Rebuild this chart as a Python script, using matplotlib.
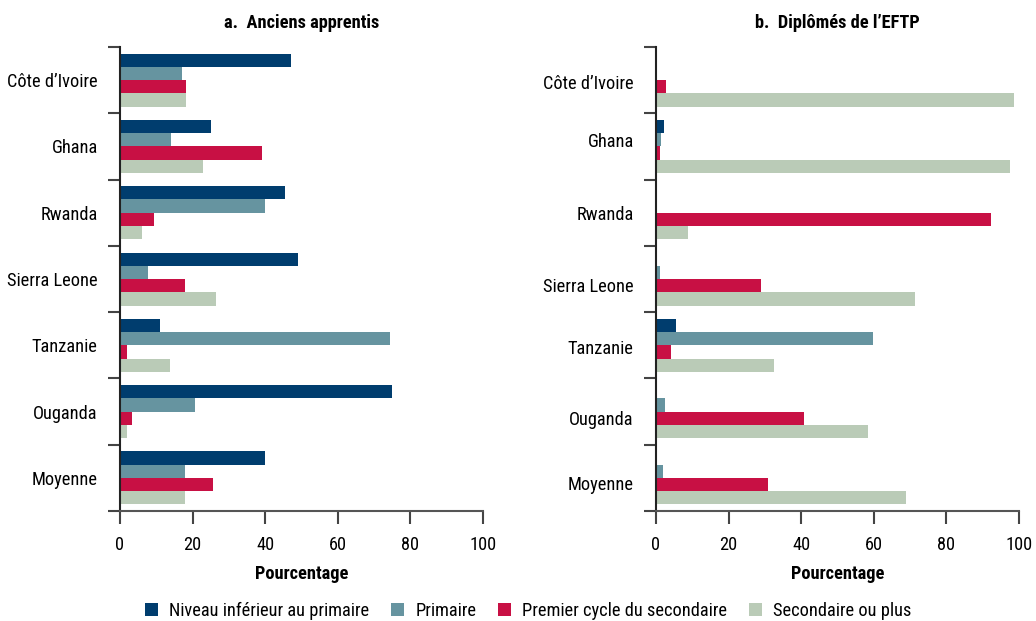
import numpy as np
import matplotlib
matplotlib.use("Agg")
import matplotlib.pyplot as plt
from matplotlib.patches import Patch
import logging
logging.getLogger('matplotlib.font_manager').setLevel(logging.ERROR)

plt.rcParams['font.family'] = ['Roboto Condensed', 'Asap Condensed', 'Open Sans', 'DejaVu Sans']

categories = ["Côte d’Ivoire", "Ghana", "Rwanda", "Sierra Leone", "Tanzanie", "Ouganda", "Moyenne"]
series_names = ["Niveau inférieur au primaire", "Primaire", "Premier cycle du secondaire", "Secondaire ou plus"]

# Panel a: Anciens apprentis
appr_inf_primaire = [47.1, 25.1, 45.5, 49.0, 11.0, 74.8, 40.0]
appr_primaire = [17.1, 14.0, 40.0, 7.7, 74.4, 20.7, 17.9]
appr_premier_cycle = [18.2, 39.1, 9.4, 17.9, 1.9, 3.3, 25.6]
appr_secondaire_plus = [18.2, 22.9, 6.1, 26.4, 13.8, 1.9, 17.9]

# Panel b: Diplômés de l'EFTP
eftp_inf_primaire = [0.0, 2.2, 0.0, 0.0, 5.5, 0.0, 0.0]
eftp_primaire = [0.0, 1.4, 0.0, 1.1, 59.9, 2.5, 1.9]
eftp_premier_cycle = [2.7, 1.1, 92.3, 28.8, 4.1, 40.7, 30.8]
eftp_secondaire_plus = [98.6, 97.5, 8.8, 71.4, 32.4, 58.5, 69.0]

x_ticks = [0, 20, 40, 60, 80, 100]

colors = ["#003D6E", "#6694A0", "#C81044", "#BACBB7"]

# label vertical nudges for the right panel (style only)
right_label_offsets = [0.03, -0.1, 0.0, 0.09, 0.03, 0.09, 0.08]

fig = plt.figure(figsize=(10.36, 6.21), dpi=100)
ax_a = fig.add_axes([0.1158, 0.1771, 0.3504, 0.7472])
ax_b = fig.add_axes([0.6332, 0.1771, 0.3504, 0.7472])

FS = 13.2

def draw(ax, data, title, offsets):
    n = len(categories)
    idx = np.arange(n)
    for j, vals in enumerate(data):
        ax.barh(idx + 0.2 + 0.2 * j, vals, height=0.2, color=colors[j], linewidth=0)
    ax.set_ylim(n, 0)
    ax.set_xlim(0, 100)
    ax.set_xticks(x_ticks)
    ax.set_xticklabels([str(t) for t in x_ticks], fontsize=FS)
    ax.set_yticks(np.arange(n + 1))
    ax.set_yticklabels([])
    ax.set_yticks(idx + 0.5 + np.array(offsets), minor=True)
    ax.set_yticklabels(categories, minor=True, fontsize=FS)
    ax.tick_params(axis='y', which='major', length=9, width=1.5, color='#444444', direction='out')
    ax.tick_params(axis='y', which='minor', length=0, pad=16)
    ax.tick_params(axis='x', which='major', length=9, width=1.5, color='#444444', direction='out', pad=9)
    for s in ['top', 'right']:
        ax.spines[s].set_visible(False)
    ax.spines['left'].set_color('#222222')
    ax.spines['left'].set_linewidth(1.5)
    ax.spines['bottom'].set_color('#555555')
    ax.spines['bottom'].set_linewidth(1.5)
    ax.set_xlabel("Pourcentage", fontsize=FS, fontweight='bold', labelpad=8)
    ax.set_title(title, fontsize=FS, fontweight='bold', pad=14)

draw(ax_a, [appr_inf_primaire, appr_primaire, appr_premier_cycle, appr_secondaire_plus],
     "a.  Anciens apprentis", [0] * 7)
draw(ax_b, [eftp_inf_primaire, eftp_primaire, eftp_premier_cycle, eftp_secondaire_plus],
     "b.  Diplômés de l’EFTP", right_label_offsets)

handles = [Patch(facecolor=c, edgecolor='none') for c in colors]
fig.legend(handles, series_names, loc='center', bbox_to_anchor=(0.510, 0.0160), ncol=4,
           frameon=False, fontsize=FS, handlelength=0.7, handleheight=0.7,
           handletextpad=0.6, columnspacing=1.2)

fig.savefig("out.png", dpi=100)
